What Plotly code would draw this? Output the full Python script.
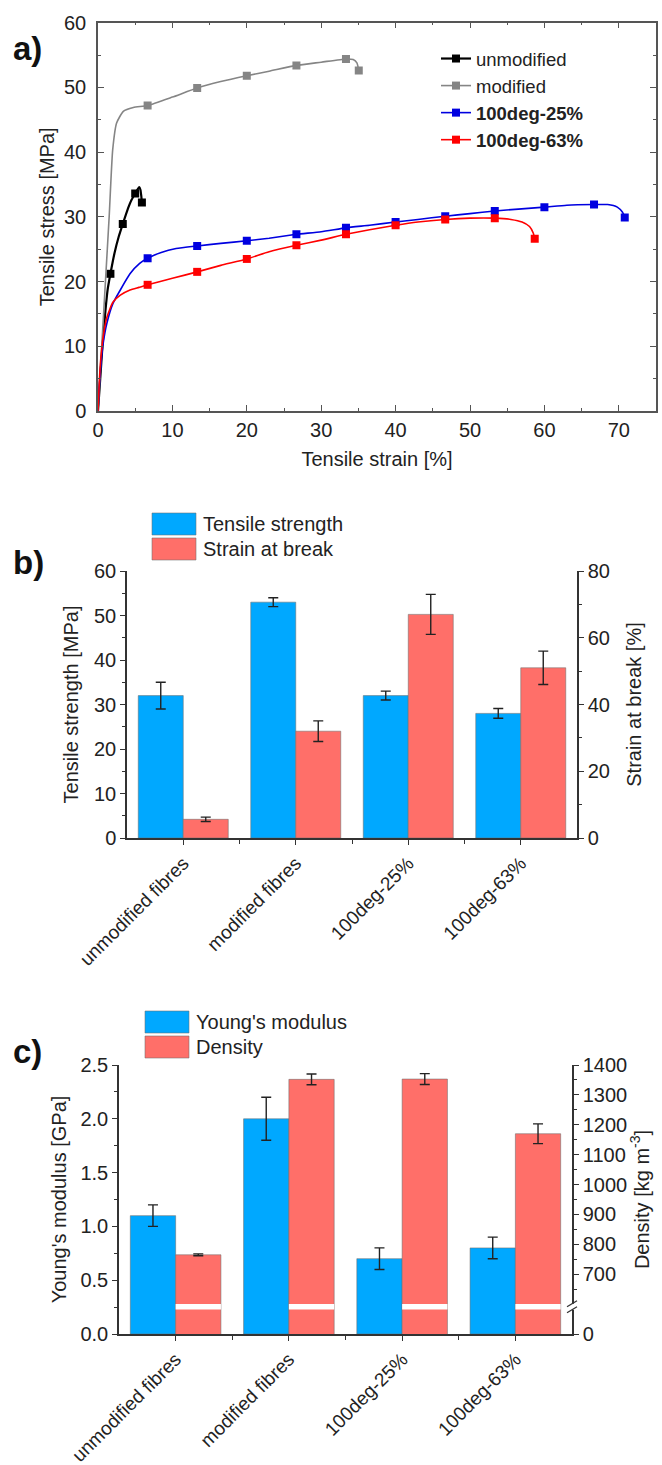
import plotly.graph_objects as go

FONT = "Liberation Sans, Arial, sans-serif"
TXT = "#222222"
W, H = 662, 1465

# ---------------- Panel a: stress-strain curves ----------------
unmod_x = [0, 0.3, 0.6, 1.0, 1.3, 1.67, 2.2, 2.8, 3.33, 4.0, 4.5, 5.0, 5.35, 5.55, 5.7, 5.82, 5.9]
unmod_y = [0, 5.0, 10.0, 15.5, 18.8, 21.2, 24.3, 27.0, 28.9, 31.2, 32.6, 33.6, 34.3, 34.6, 34.2, 33.2, 32.2]
unmod_mx = [1.67, 3.33, 5.0, 5.9]
unmod_my = [21.2, 28.9, 33.6, 32.2]

mod_x = [0, 0.5, 1.0, 1.5, 1.97, 2.5, 3.4, 4.75, 6.67, 10.0, 13.33, 16.5, 20.0, 23.0, 26.67, 30.0, 33.33, 34.3, 34.8, 35.05]
mod_y = [0, 10.0, 20.0, 30.0, 40.3, 44.5, 46.3, 46.9, 47.2, 48.5, 49.9, 50.9, 51.8, 52.5, 53.4, 53.9, 54.4, 54.3, 53.8, 52.6]
mod_mx = [6.67, 13.33, 20.0, 26.67, 33.33, 35.05]
mod_my = [47.2, 49.9, 51.8, 53.4, 54.4, 52.6]

d25_x = [0, 0.3, 0.7, 1.2, 2.0, 3.0, 4.3, 5.6, 6.67, 8.5, 10.5, 13.33, 16.5, 20.0, 23.0, 26.67, 30.0, 33.33,
         36.5, 40.0, 43.0, 46.67, 50.0, 53.33, 56.5, 60.0, 63.0, 66.67, 68.5, 69.8, 70.5, 70.8]
d25_y = [0, 6.0, 10.5, 13.6, 16.6, 18.7, 21.2, 22.8, 23.6, 24.5, 25.1, 25.5, 25.9, 26.3, 26.7, 27.3, 27.7, 28.3,
         28.7, 29.2, 29.6, 30.1, 30.5, 30.9, 31.2, 31.5, 31.8, 31.9, 31.9, 31.5, 30.7, 29.9]
d25_mx = [6.67, 13.33, 20.0, 26.67, 33.33, 40.0, 46.67, 53.33, 60.0, 66.67, 70.8]
d25_my = [23.6, 25.5, 26.3, 27.3, 28.3, 29.2, 30.1, 30.9, 31.5, 31.9, 29.9]

d63_x = [0, 0.3, 0.7, 1.2, 2.0, 3.0, 4.3, 5.5, 6.67, 10.0, 13.33, 16.5, 20.0, 23.0, 26.67, 30.0, 33.33, 36.5,
         40.0, 43.0, 46.67, 50.0, 53.33, 55.5, 57.0, 58.0, 58.5, 58.7]
d63_y = [0, 7.0, 11.5, 14.5, 16.8, 17.9, 18.7, 19.1, 19.5, 20.5, 21.5, 22.5, 23.5, 24.6, 25.6, 26.4, 27.3, 28.0,
         28.7, 29.2, 29.6, 29.8, 29.8, 29.6, 29.2, 28.5, 27.5, 26.6]
d63_mx = [6.67, 13.33, 20.0, 26.67, 33.33, 40.0, 46.67, 53.33, 58.7]
d63_my = [19.5, 21.5, 23.5, 25.6, 27.3, 28.7, 29.6, 29.8, 26.6]

curve_names = ["unmodified", "modified", "<b>100deg-25%</b>", "<b>100deg-63%</b>"]
curve_colors = ["#000000", "#858585", "#0000E0", "#FF0000"]
curve_widths = [2.2, 1.6, 1.6, 1.6]

# ---------------- Panel b / c: bar data ----------------
categories = ["unmodified fibres", "modified fibres", "100deg-25%", "100deg-63%"]
tensile_strength = [32, 53, 32, 28]
tensile_strength_err = [3, 1, 1, 1.1]
strain_at_break = [5.6, 32, 67, 51]
strain_at_break_err = [0.65, 3.1, 6, 5]

youngs_modulus = [1.1, 2.0, 0.7, 0.8]
youngs_modulus_err = [0.1, 0.2, 0.1, 0.1]
density = [765, 1352, 1353, 1170]
density_err = [3, 18, 18, 33]

density_ticks = [700, 800, 900, 1000, 1100, 1200, 1300, 1400]
density_axis_bottom = 500      # shown as "0" (broken axis)
density_break = [582, 600]     # white gap across density bars

BLUE = "#00A8FF"
RED = "#FF6F69"
EDGE = "rgba(110,110,110,0.55)"

pos = list(range(len(categories)))

fig = go.Figure()

series = [(unmod_x, unmod_y, unmod_mx, unmod_my), (mod_x, mod_y, mod_mx, mod_my),
          (d25_x, d25_y, d25_mx, d25_my), (d63_x, d63_y, d63_mx, d63_my)]
for (lx, ly, mx, my), name, col, lw in zip(series, curve_names, curve_colors, curve_widths):
    fig.add_trace(go.Scatter(x=lx, y=ly, mode="lines", xaxis="x", yaxis="y",
                             line=dict(color=col, width=lw, shape="spline", smoothing=0.5),
                             showlegend=False, hoverinfo="skip"))
    fig.add_trace(go.Scatter(x=mx, y=my, mode="markers", xaxis="x", yaxis="y",
                             marker=dict(symbol="square", size=8, color=col),
                             showlegend=False))
    fig.add_trace(go.Scatter(x=[None], y=[None], mode="lines+markers", name=name, xaxis="x", yaxis="y",
                             line=dict(color=col, width=lw),
                             marker=dict(symbol="square", size=8, color=col)))

err_style = dict(type="data", color="#222222", thickness=1.4, width=5)

fig.add_trace(go.Bar(x=pos, y=tensile_strength, xaxis="x2", yaxis="y2", offsetgroup="L",
                     marker=dict(color=BLUE, line=dict(color=EDGE, width=1)),
                     error_y=dict(array=tensile_strength_err, **err_style), showlegend=False))
fig.add_trace(go.Bar(x=pos, y=strain_at_break, xaxis="x2", yaxis="y3", offsetgroup="R",
                     marker=dict(color=RED, line=dict(color=EDGE, width=1)),
                     error_y=dict(array=strain_at_break_err, **err_style), showlegend=False))

fig.add_trace(go.Bar(x=pos, y=youngs_modulus, xaxis="x3", yaxis="y4", offsetgroup="L",
                     marker=dict(color=BLUE, line=dict(color=EDGE, width=1)),
                     error_y=dict(array=youngs_modulus_err, **err_style), showlegend=False))
fig.add_trace(go.Bar(x=pos, y=density, xaxis="x3", yaxis="y5", offsetgroup="R",
                     marker=dict(color=RED, line=dict(color=EDGE, width=1)),
                     error_y=dict(array=density_err, **err_style), showlegend=False))
fig.add_trace(go.Bar(x=pos, y=[density_break[1] - density_break[0]] * len(pos),
                     base=[density_break[0]] * len(pos), xaxis="x3", yaxis="y5", offsetgroup="R",
                     marker=dict(color="white", line=dict(width=0)), showlegend=False, hoverinfo="skip"))


def py(px):
    return 1 - px / H


def px_x(px):
    return px / W


ax_common = dict(showline=True, showgrid=False, zeroline=False, automargin=False,
                 tickfont=dict(size=20, color=TXT, family=FONT),
                 title_font=dict(size=20, color=TXT, family=FONT))
cat_font = dict(size=19, color=TXT, family=FONT)

LA = "#555555"
LB = "#333333"

fig.update_layout(
    width=W, height=H, margin=dict(l=0, r=0, t=0, b=0, autoexpand=False),
    paper_bgcolor="white", plot_bgcolor="white",
    font=dict(family=FONT, size=20, color=TXT),
    barmode="group", bargap=0.2, bargroupgap=0,
    legend=dict(x=px_x(436), y=py(40), xanchor="left", yanchor="top",
                bgcolor="rgba(0,0,0,0)", font=dict(size=18.5, color=TXT), tracegroupgap=0),
    xaxis=dict(domain=[px_x(98), px_x(656)], anchor="y", range=[0, 75], dtick=10,
               ticks="inside", ticklen=6, tickcolor=LA, linecolor=LA, linewidth=1.5, mirror="allticks",
               minor=dict(dtick=5, ticks="inside", ticklen=3, tickcolor=LA),
               title=dict(text="Tensile strain [%]", standoff=12), **ax_common),
    yaxis=dict(domain=[py(411), py(22.7)], anchor="x", range=[0, 60], dtick=10,
               ticks="inside", ticklen=6, tickcolor=LA, linecolor=LA, linewidth=1.5, mirror="allticks",
               minor=dict(dtick=5, ticks="inside", ticklen=3, tickcolor=LA),
               ticklabelstandoff=6,
               title=dict(text="Tensile stress [MPa]", standoff=4), **ax_common),
    xaxis2=dict(domain=[px_x(127), px_x(577)], anchor="y2", range=[-0.5, 3.5],
                tickvals=pos, ticktext=categories, tickangle=-45,
                ticks="outside", ticklen=5, tickcolor=LB, linecolor=LB, linewidth=1.5,
                minor=dict(tickvals=[0.5, 1.5, 2.5], ticks="outside", ticklen=4, tickcolor=LB),
                showline=True, showgrid=False, zeroline=False, automargin=False, tickfont=cat_font),
    yaxis2=dict(domain=[py(838), py(571)], anchor="x2", range=[0, 60], dtick=10,
                ticks="outside", ticklen=5, tickcolor=LB, linecolor=LB, linewidth=1.5,
                minor=dict(dtick=5, ticks="outside", ticklen=3, tickcolor=LB),
                title=dict(text="Tensile strength [MPa]", standoff=10), **ax_common),
    yaxis3=dict(overlaying="y2", side="right", anchor="x2", range=[0, 80], dtick=20,
                ticks="outside", ticklen=5, tickcolor=LB, linecolor=LB, linewidth=1.5,
                minor=dict(dtick=10, ticks="outside", ticklen=3, tickcolor=LB),
                title=dict(text="Strain at break [%]", standoff=18), **ax_common),
    xaxis3=dict(domain=[px_x(119), px_x(572)], anchor="y4", range=[-0.5, 3.5],
                tickvals=pos, ticktext=categories, tickangle=-45,
                ticks="outside", ticklen=5, tickcolor=LB, linecolor=LB, linewidth=1.5,
                minor=dict(tickvals=[0.5, 1.5, 2.5], ticks="outside", ticklen=4, tickcolor=LB),
                showline=True, showgrid=False, zeroline=False, automargin=False, tickfont=cat_font),
    yaxis4=dict(domain=[py(1334), py(1065)], anchor="x3", range=[0, 2.5], dtick=0.5, tickformat=".1f",
                ticks="outside", ticklen=5, tickcolor=LB, linecolor=LB, linewidth=1.5,
                minor=dict(dtick=0.25, ticks="outside", ticklen=3, tickcolor=LB),
                title=dict(text="Young's modulus [GPa]", standoff=8), **ax_common),
    yaxis5=dict(overlaying="y4", side="right", anchor="x3", range=[density_axis_bottom, 1400],
                tickvals=[density_axis_bottom] + density_ticks,
                ticktext=["0"] + [str(v) for v in density_ticks],
                ticks="outside", ticklen=5, tickcolor=LB, linecolor=LB, linewidth=1.5,
                minor=dict(tickvals=[v + 50 for v in [600] + density_ticks[:-1]], ticks="outside",
                           ticklen=3, tickcolor=LB),
                title=dict(text="Density [kg m<sup>-3</sup>]", standoff=8), **ax_common),
)

shapes = []
annotations = []
# custom legends for panels b and c
for (x0, x1, y0, y1, col, label) in [
    (152, 196, 513, 535, BLUE, "Tensile strength"),
    (152, 196, 538, 560, RED, "Strain at break"),
    (145, 189, 1011, 1033, BLUE, "Young's modulus"),
    (145, 189, 1036, 1058, RED, "Density"),
]:
    shapes.append(dict(type="rect", xref="paper", yref="paper", x0=px_x(x0), x1=px_x(x1),
                       y0=py(y1), y1=py(y0), fillcolor=col, line=dict(color=EDGE, width=1)))
    annotations.append(dict(text=label, xref="paper", yref="paper", x=px_x(x1 + 5), y=py((y0 + y1) / 2),
                            xanchor="left", yanchor="middle", showarrow=False,
                            font=dict(size=20, color=TXT, family=FONT)))

# broken-axis marks on density axis
brk = sum(density_break) / 2
shapes.append(dict(type="rect", xref="x3 domain", yref="y5", xsizemode="pixel", ysizemode="pixel",
                   xanchor=1, yanchor=brk, x0=-3, x1=3, y0=-3, y1=3, fillcolor="white", line=dict(width=0)))
for off in (-3, 3):
    shapes.append(dict(type="line", xref="x3 domain", yref="y5", xsizemode="pixel", ysizemode="pixel",
                       xanchor=1, yanchor=brk, x0=-5, x1=5, y0=off - 3, y1=off + 3,
                       line=dict(color=LB, width=1.3)))

for lab, ycen in [("a)", 48), ("b)", 562), ("c)", 1051)]:
    annotations.append(dict(text="<b>%s</b>" % lab, xref="paper", yref="paper", x=px_x(11), y=py(ycen),
                            xanchor="left", yanchor="middle", showarrow=False,
                            font=dict(size=33, color="#111111", family=FONT)))

fig.update_layout(shapes=shapes, annotations=annotations)
fig.write_html("out.html")
